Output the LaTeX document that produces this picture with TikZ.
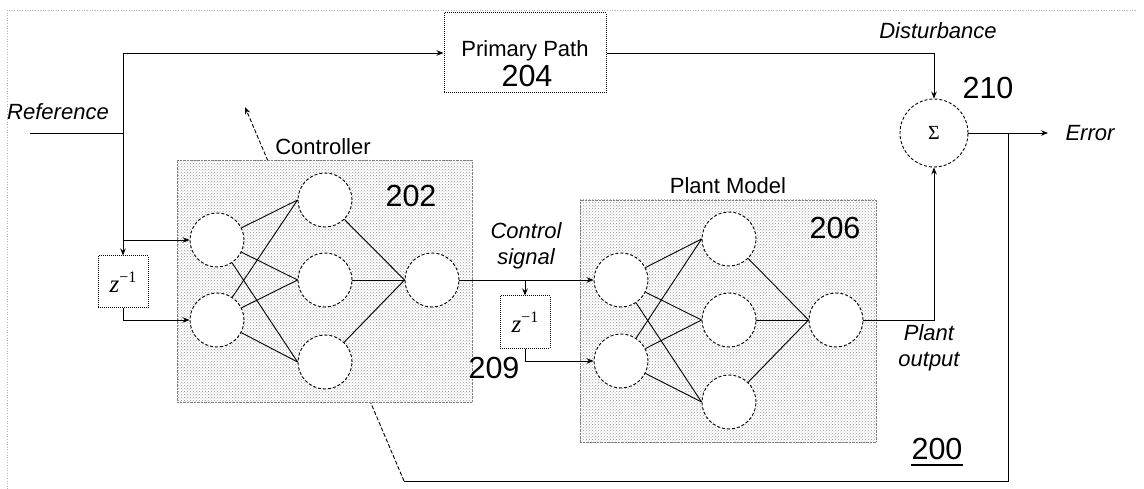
\documentclass[tikz,border=0pt]{standalone}
\usepackage{fontspec}
\setmainfont{Liberation Sans}
\newfontfamily\mathlike{Liberation Serif}
\usetikzlibrary{arrows.meta,patterns}

\newcommand{\delayop}{{\mathlike\itshape z}\raisebox{0.4em}{\mathlike\fontsize{16}{18}\selectfont −1}}

\begin{document}
\begin{tikzpicture}[x=1pt,y=-1pt,
  wire/.style={line width=0.9pt, black},
  arr/.style={wire, -{Stealth[length=7pt,width=5.5pt]}},
  neuron/.style={circle, draw, line width=0.9pt, densely dashed, fill=white,
    minimum size=54pt, inner sep=0pt},
  panel/.style={draw=gray, densely dotted, preaction={fill=white},
    pattern=crosshatch dots, pattern color=gray!80, inner sep=0pt},
  delay/.style={draw, densely dotted, line width=1pt, fill=white,
    minimum width=50pt, minimum height=52pt, inner sep=0pt,
    font=\fontsize{25}{27}\selectfont},
  blockbox/.style={draw, densely dotted, line width=1pt, fill=white,
    minimum width=162pt, minimum height=80pt, inner sep=0pt},
  lab/.style={font=\fontsize{22}{26}\selectfont, inner sep=0pt},
  ilab/.style={font=\fontsize{22}{26}\selectfont\itshape, inner sep=0pt, align=center},
  num/.style={font=\fontsize{30.5}{34}\selectfont, inner sep=0pt},
  frameline/.style={gray!60, dotted, line width=0.6pt}]

\useasboundingbox (0,0) rectangle (1144,489);

% page frame
\draw[frameline] (7,489) -- (7,10) -- (1137,10);

% adaptation path: feedback from the error back across the controller
\coordinate (jerr) at (1008,133);
\coordinate (fbc) at (1008,481);
\coordinate (fbl) at (404,481);
\coordinate (adapt) at (245,107);
\draw[wire] (jerr) -- (fbc) -- (fbl);
\draw[arr, dash pattern=on 4pt off 2pt] (fbl) -- (adapt);

% shaded network panels
\node[panel, minimum width=295pt, minimum height=242pt] (ctrl) at (324.5,281) {};
\node[panel, minimum width=296pt, minimum height=242pt] (plant) at (728,321) {};
\node[lab] (ctrllab) at (323,147) {Controller};
\node[lab] (plantlab) at (728,186) {Plant Model};
\node[num] (n202) at (411,196) {202};
\node[num] (n206) at (835,228) {206};

% controller network
\node[neuron] (in1) at (217,240) {};
\node[neuron] (in2) at (217,320) {};
\node[neuron] (h1) at (325,200) {};
\node[neuron] (h2) at (325,280) {};
\node[neuron] (h3) at (325,362) {};
\node[neuron] (out1) at (432,280) {};
\foreach \i in {in1,in2}
  \foreach \j in {h1,h2,h3}
    \draw[wire] (\i) -- (\j.west);
\foreach \j in {h1,h2,h3}
  \draw[wire] (\j) -- (out1.west);

% plant model network
\node[neuron] (pin1) at (621,280) {};
\node[neuron] (pin2) at (621,361) {};
\node[neuron] (ph1) at (729,239) {};
\node[neuron] (ph2) at (729,320) {};
\node[neuron] (ph3) at (729,402) {};
\node[neuron] (pout) at (836,320) {};
\foreach \i in {pin1,pin2}
  \foreach \j in {ph1,ph2,ph3}
    \draw[wire] (\i) -- (\j.west);
\foreach \j in {ph1,ph2,ph3}
  \draw[wire] (\j) -- (pout.west);

% primary path and summing junction
\node[blockbox] (pp) at (525,53) {};
\node[lab] (pplab) at (525,51) {Primary Path};
\node[num] (n204) at (527,76) {204};
\node[circle, draw, densely dashed, line width=0.9pt, fill=white,
  minimum size=68pt, inner sep=0pt] (sum) at (934,133) {\mathlike\fontsize{20}{22}\selectfont Σ};
\node[num] (n210) at (988,88) {210};

% reference input and its delay line
\coordinate (refin) at (30,133);
\coordinate (jref) at (123,133);
\coordinate (jin1) at (123,240);
\node[ilab] (reflab) at (58,112) {Reference};
\node[delay] (z1) at (123,282) {\delayop};
\draw[wire] (refin) -- (jref);
\draw[arr] (jref) |- (pp.west);
\draw[arr] (jref) -- (z1.north);
\draw[arr] (jin1) -- (in1);
\draw[arr] (z1.south) |- (in2);

% control signal and its delay line
\coordinate (jcs) at (525,280);
\node[delay] (z2) at (525,322) {\delayop};
\node[num] (n209) at (494,368) {209};
\node[ilab] (cslab) at (526,246) {Control\\signal};
\draw[arr] (out1) -- (pin1);
\draw[arr] (jcs) -- (z2.north);
\draw[arr] (z2.south) |- (pin2);

% disturbance, plant output and error
\node[ilab] (distlab) at (938,31) {Disturbance};
\draw[arr] (pp.east) -| (sum.north);
\draw[arr] (pout) -| (sum.south);
\node[ilab] (polab) at (929,348) {Plant\\output};
\coordinate (errtip) at (1048,133);
\draw[arr] (sum.east) -- (errtip);
\node[ilab] (errlab) at (1090,133) {Error};

% figure number, underlined
\node[num] (n200) at (937,449) {200};
\draw[line width=1.4pt] ([yshift=-5pt]n200.south west) -- ([yshift=-5pt]n200.south east);
\end{tikzpicture}
\end{document}
